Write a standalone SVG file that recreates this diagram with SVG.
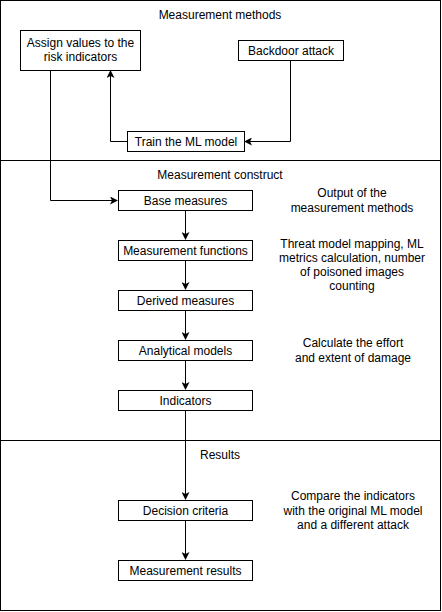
<svg xmlns="http://www.w3.org/2000/svg" width="442" height="612" viewBox="0 0 442 612">
<style>
text{font-family:"Liberation Sans",Arial,sans-serif;font-size:12px;fill:#000;text-anchor:middle}
.box{fill:#fff;stroke:#000;stroke-width:1}
.sec{fill:none;stroke:#000;stroke-width:1}
.c{fill:none;stroke:#000;stroke-width:1}
</style>
<defs>
<marker id="ah" viewBox="0 0 8 8" refX="7" refY="4" markerWidth="8" markerHeight="8" markerUnits="userSpaceOnUse" orient="auto">
<path d="M0,0 L8,4 L0,8 L2,4 Z" fill="#000"/>
</marker>
</defs>
<rect width="442" height="612" fill="#fff"/>
<g id="sections">
<rect class="sec" x="0.5" y="0.5" width="440" height="160"/>
<rect class="sec" x="0.5" y="160.5" width="440" height="280"/>
<rect class="sec" x="0.5" y="440.5" width="440" height="170"/>
<text x="220" y="19">Measurement methods</text>
<text x="220" y="179">Measurement construct</text>
<text x="220" y="459">Results</text>
</g>
<g id="connectors">
<path class="c" d="M290.5,60 V141.5 H245" marker-end="url(#ah)"/>
<path class="c" d="M127,141.5 H110.5 V71" marker-end="url(#ah)"/>
<path class="c" d="M50.5,70 V200.5 H117" marker-end="url(#ah)"/>
<path class="c" d="M185.5,210 V239" marker-end="url(#ah)"/>
<path class="c" d="M185.5,260 V289" marker-end="url(#ah)"/>
<path class="c" d="M185.5,310 V339" marker-end="url(#ah)"/>
<path class="c" d="M185.5,360 V389" marker-end="url(#ah)"/>
<path class="c" d="M185.5,410 V499" marker-end="url(#ah)"/>
<path class="c" d="M185.5,520 V559" marker-end="url(#ah)"/>
</g>
<g id="assign"><rect class="box" x="20.5" y="30.5" width="120" height="40"/><text x="80.5" y="47">Assign values to the</text><text x="80.5" y="61">risk indicators</text></g>
<g id="backdoor"><rect class="box" x="238.5" y="40.5" width="105" height="20"/><text x="291" y="55">Backdoor attack</text></g>
<g id="train"><rect class="box" x="127.5" y="131.5" width="117" height="20"/><text x="186" y="146">Train the ML model</text></g>
<g id="base"><rect class="box" x="118.5" y="190.5" width="134" height="20"/><text x="185.5" y="205">Base measures</text></g>
<g id="functions"><rect class="box" x="118.5" y="240.5" width="134" height="20"/><text x="185.5" y="255">Measurement functions</text></g>
<g id="derived"><rect class="box" x="118.5" y="290.5" width="134" height="20"/><text x="185.5" y="305">Derived measures</text></g>
<g id="analytical"><rect class="box" x="118.5" y="340.5" width="134" height="20"/><text x="185.5" y="355">Analytical models</text></g>
<g id="indicators"><rect class="box" x="118.5" y="390.5" width="134" height="20"/><text x="185.5" y="405">Indicators</text></g>
<g id="decision"><rect class="box" x="118.5" y="500.5" width="134" height="20"/><text x="185.5" y="515">Decision criteria</text></g>
<g id="results"><rect class="box" x="118.5" y="560.5" width="134" height="20"/><text x="185.5" y="575">Measurement results</text></g>
<g id="note1"><text x="352" y="197">Output of the</text><text x="352" y="212">measurement methods</text></g>
<g id="note2"><text x="352" y="248">Threat model mapping, ML</text><text x="352" y="262">metrics calculation, number</text><text x="352" y="276">of poisoned images</text><text x="352" y="290">counting</text></g>
<g id="note3"><text x="353" y="347">Calculate the effort</text><text x="353" y="362">and extent of damage</text></g>
<g id="note4"><text x="353" y="500">Compare the indicators</text><text x="353" y="515">with the original ML model</text><text x="353" y="529">and a different attack</text></g>
</svg>
